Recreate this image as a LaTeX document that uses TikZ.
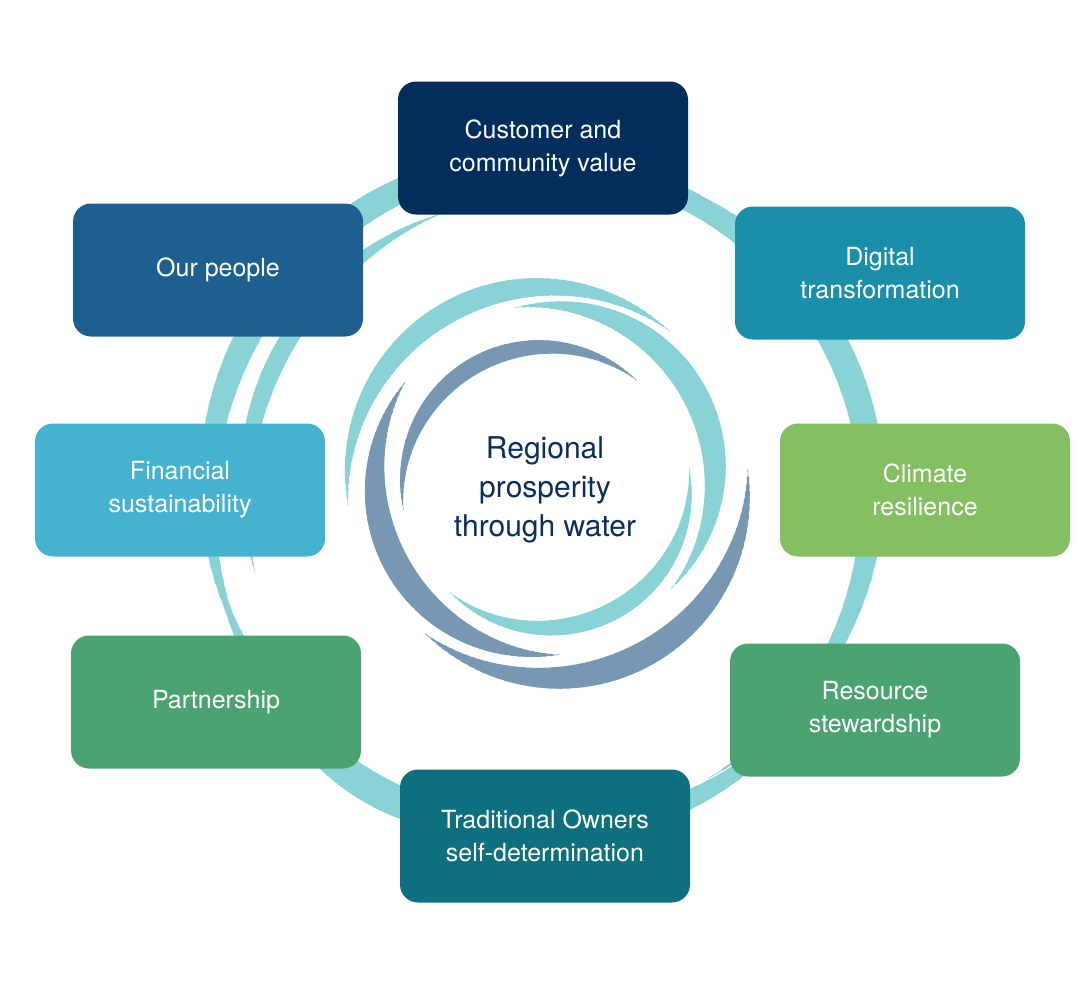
\documentclass[tikz,border=0pt]{standalone}
\usepackage{fontspec}
\setmainfont{TeX Gyre Heros}
\usetikzlibrary{positioning}
\definecolor{navy}{HTML}{002D5C}
\definecolor{digital}{HTML}{1A8FAA}
\definecolor{climate}{HTML}{84BF62}
\definecolor{resource}{HTML}{4BA372}
\definecolor{trad}{HTML}{0E707E}
\definecolor{financial}{HTML}{45B3D0}
\definecolor{people}{HTML}{1D5F91}
\definecolor{lightteal}{HTML}{89D3D6}
\definecolor{bluegray}{HTML}{7797B3}
\definecolor{centretext}{HTML}{0A2D5E}
% tapered arc: cx cy r start end maxwidth colour
\newcommand{\swirl}[7]{%
\foreach \i in {1,...,60}{
\pgfmathsetmacro\aa{#4+(#5-#4)*(\i-1)/60}
\pgfmathsetmacro\bb{#4+(#5-#4)*\i/60}
\pgfmathsetmacro\ww{#6*sin(180*(\i-0.5)/60)}
\draw[#7,line width=\ww pt,line cap=round] ([shift={(\aa:#3)}]#1,#2) arc[start angle=\aa,end angle=\bb,radius=#3];
}}
\begin{document}
\begin{tikzpicture}
[x=1pt,y=-1pt,
box/.style={rectangle,rounded corners=18pt,minimum width=290pt,minimum height=133pt,
text=white,align=center,font=\fontsize{25}{33}\selectfont,inner sep=0pt},
centre/.style={text=centretext,align=center,font=\fontsize{30}{39}\selectfont}]
\useasboundingbox (0,0) rectangle (1090,1002);

% outer ring
\swirl{545}{495}{337}{150}{300}{27}{lightteal}
\swirl{545}{495}{327}{250}{420}{27}{lightteal}
\swirl{545}{495}{337}{30}{170}{27}{lightteal}
\swirl{545}{495}{300}{165}{250}{18}{lightteal}
\swirl{545}{500}{345}{105}{140}{14}{lightteal}

% inner swirls
\swirl{545}{485}{198}{-51}{-186}{22}{lightteal}
\swirl{545}{475}{170}{-100}{42}{26}{lightteal}
\swirl{545}{483}{145}{131}{-6}{18}{lightteal}
\swirl{545}{490}{143}{-50}{-188}{17}{bluegray}
\swirl{550}{480}{175}{214}{87}{26}{bluegray}
\swirl{550}{480}{198}{129}{-3}{26}{bluegray}

\node[centre] (hub) at (545,490) {Regional\\prosperity\\through water};

\node[box,fill=navy] (customer) at (543,148) {Customer and\\community value};
\node[box,fill=digital] (digital) at (880,273) {Digital\\transformation};
\node[box,fill=climate] (climate) at (925,490) {Climate\\resilience};
\node[box,fill=resource] (resource) at (875,710) {Resource\\stewardship};
\node[box,fill=trad] (owners) at (545,836) {Traditional Owners\\self-determination};
\node[box,fill=resource] (partner) at (216,702) {Partnership};
\node[box,fill=financial] (finance) at (180,490) {Financial\\sustainability};
\node[box,fill=people] (people) at (218,270) {Our people};
\end{tikzpicture}
\end{document}
